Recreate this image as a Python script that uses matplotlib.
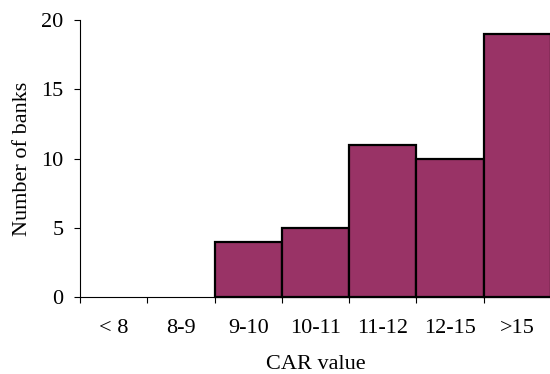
import matplotlib
matplotlib.use("Agg")
import matplotlib.pyplot as plt
import numpy as np

categories = ["< 8", "8-9", "9-10", "10-11", "11-12", "12-15", ">15"]
banks = [0, 0, 4, 5, 11, 10, 19]
y_ticks = [0, 5, 10, 15, 20]

plt.rcParams['font.family'] = ['Liberation Serif', 'DejaVu Serif']
plt.rcParams['font.size'] = 16

fig = plt.figure(figsize=(5.5, 3.74), dpi=100)
ax = fig.add_axes([80 / 550, 77 / 374, 471 / 550, 277 / 374])

x = np.arange(len(categories))
# empty classes get no outline, only the axis line shows there
edge_widths = [1.6 if v > 0 else 0 for v in banks]
ax.bar(x, banks, width=1.0, color='#993366', edgecolor='black',
       linewidth=edge_widths, clip_on=False)

ax.set_xlim(-0.5, len(categories) - 0.5)
ax.set_ylim(0, 20)
ax.set_yticks(y_ticks)

# labels in the middle of each class, tick marks on the class borders
ax.set_xticks(x)
ax.set_xticklabels(categories)
ax.set_xticks(np.arange(len(categories) + 1) - 0.5, minor=True)
ax.tick_params(axis='x', which='major', length=0, pad=16)
ax.tick_params(axis='x', which='minor', length=4.5, width=0.8, direction='out')
ax.tick_params(axis='y', length=4.5, width=0.8, direction='out', pad=7.5)

for side in ['top', 'right']:
    ax.spines[side].set_visible(False)
for side in ['left', 'bottom']:
    ax.spines[side].set_linewidth(0.8)

ax.set_xlabel('CAR value')
ax.set_ylabel('Number of banks')
ax.xaxis.set_label_coords(0.5, -0.21)
ax.yaxis.set_label_coords(-0.102, 0.5)

fig.savefig('out.png', dpi=100)
